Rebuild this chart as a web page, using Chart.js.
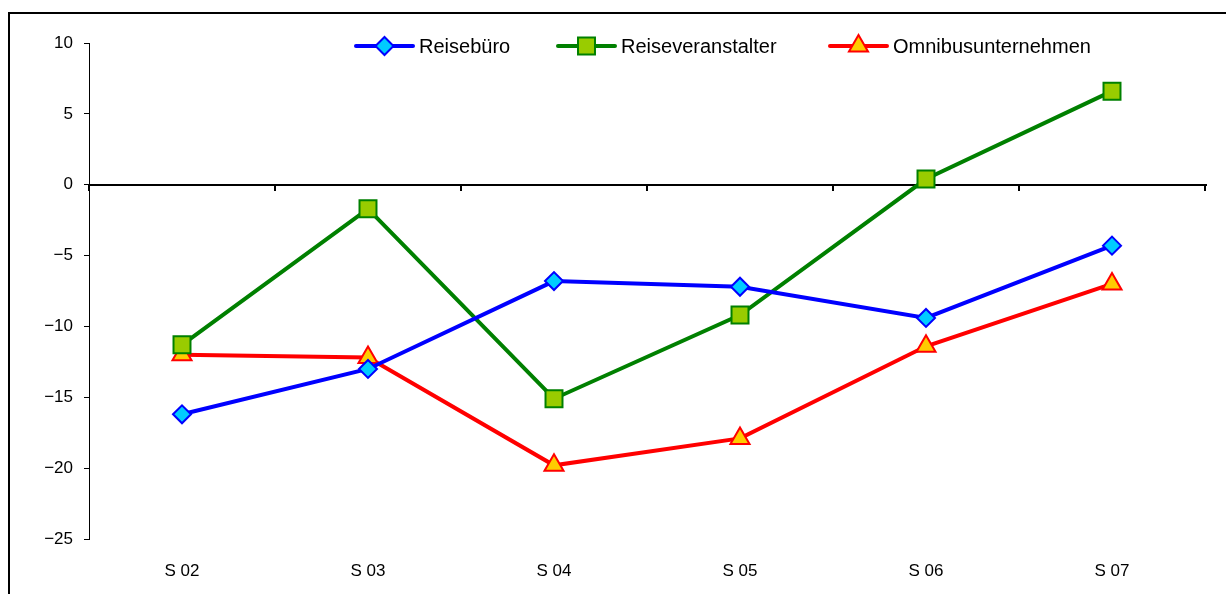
<!DOCTYPE html>
<html>
<head>
<meta charset="utf-8">
<title>Reisebranche – Saldo S 02 bis S 07</title>
<script src="https://cdn.jsdelivr.net/npm/chart.js"></script>
<style>
  html, body { margin: 0; padding: 0; background: #fff; }
  #wrap { width: 1226px; height: 594px; position: relative; }
</style>
</head>
<body>
<div id="wrap"><canvas id="c" width="1226" height="594"></canvas></div>
<script>
// Saison categories and balance values per branch
const categories = ['S 02', 'S 03', 'S 04', 'S 05', 'S 06', 'S 07'];
const reisebuero = [-16.2, -13.0, -6.8, -7.2, -9.4, -4.3];
const reiseveranstalter = [-11.3, -1.7, -15.1, -9.2, 0.4, 6.6];
const omnibusunternehmen = [-12.0, -12.2, -19.8, -17.9, -11.4, -7.0];
const yTicks = [10, 5, 0, -5, -10, -15, -20, -25];

const FONT = "'Liberation Sans', Arial, sans-serif";

function drawMarker(ctx, style, x, y, r, fill, stroke, bw) {
  ctx.save();
  ctx.beginPath();
  if (style === 'rectRot') {
    ctx.moveTo(x - r, y); ctx.lineTo(x, y - r); ctx.lineTo(x + r, y); ctx.lineTo(x, y + r);
  } else if (style === 'rect') {
    const s = r * Math.SQRT1_2;
    ctx.rect(x - s, y - s, 2 * s, 2 * s);
  } else if (style === 'triangle') {
    ctx.moveTo(x, y - r);
    ctx.lineTo(x + r * Math.sin(2 * Math.PI / 3), y - r * Math.cos(2 * Math.PI / 3));
    ctx.lineTo(x + r * Math.sin(4 * Math.PI / 3), y - r * Math.cos(4 * Math.PI / 3));
  }
  ctx.closePath();
  ctx.fillStyle = fill; ctx.fill();
  ctx.lineWidth = bw; ctx.strokeStyle = stroke; ctx.stroke();
  ctx.restore();
}

// Frame, zero axis with category separators, and the in-plot legend
const decorations = {
  id: 'decorations',
  beforeDraw(chart) {
    const ctx = chart.ctx;
    ctx.save();
    ctx.strokeStyle = '#000';
    ctx.lineWidth = 2;
    ctx.beginPath();
    ctx.moveTo(9, 594); ctx.lineTo(9, 13); ctx.lineTo(1226, 13);
    ctx.stroke();
    ctx.restore();
  },
  beforeDatasetsDraw(chart) {
    const ctx = chart.ctx, xs = chart.scales.x, ys = chart.scales.y;
    const y0 = Math.round(ys.getPixelForValue(0));
    const n = categories.length;
    const half = (xs.getPixelForValue(1) - xs.getPixelForValue(0)) / 2;
    ctx.save();
    ctx.strokeStyle = '#000';
    ctx.lineWidth = 2;
    ctx.beginPath();
    ctx.moveTo(chart.chartArea.left, y0);
    ctx.lineTo(chart.chartArea.right + 2, y0);
    ctx.stroke();
    ctx.beginPath();
    for (let i = 0; i <= n; i++) {
      const bx = Math.round(xs.getPixelForValue(0) - half + i * 2 * half);
      ctx.moveTo(bx, y0);
      ctx.lineTo(bx, y0 + 6);
    }
    ctx.stroke();
    ctx.restore();
  },
  afterDraw(chart) {
    const ctx = chart.ctx;
    const starts = [356, 558, 830];
    const ly = 46;
    chart.data.datasets.forEach((ds, i) => {
      const x0 = starts[i];
      ctx.save();
      ctx.strokeStyle = ds.borderColor;
      ctx.lineWidth = 4;
      ctx.lineCap = 'round';
      ctx.beginPath();
      ctx.moveTo(x0, ly); ctx.lineTo(x0 + 57, ly);
      ctx.stroke();
      ctx.restore();
      drawMarker(ctx, ds.pointStyle, x0 + 28.5, ly, ds.pointRadius, ds.pointBackgroundColor, ds.pointBorderColor, ds.pointBorderWidth);
      ctx.save();
      ctx.fillStyle = '#000';
      ctx.font = '20px ' + FONT;
      ctx.textBaseline = 'middle';
      ctx.fillText(ds.label, x0 + 63, ly + 1);
      ctx.restore();
    });
  }
};

new Chart(document.getElementById('c'), {
  type: 'line',
  data: {
    labels: categories,
    datasets: [
      {
        label: 'Reisebüro', data: reisebuero,
        borderColor: '#0000FF', borderWidth: 4,
        pointStyle: 'rectRot', pointRadius: 9,
        pointBackgroundColor: '#00CCFF', pointBorderColor: '#0000FF', pointBorderWidth: 2
      },
      {
        label: 'Reiseveranstalter', data: reiseveranstalter,
        borderColor: '#008000', borderWidth: 4,
        pointStyle: 'rect', pointRadius: 12,
        pointBackgroundColor: '#99CC00', pointBorderColor: '#008000', pointBorderWidth: 2
      },
      {
        label: 'Omnibusunternehmen', data: omnibusunternehmen,
        borderColor: '#FF0000', borderWidth: 4,
        pointStyle: 'triangle', pointRadius: 11,
        pointBackgroundColor: '#FFCC00', pointBorderColor: '#FF0000', pointBorderWidth: 2
      }
    ]
  },
  options: {
    responsive: false,
    animation: false,
    layout: { padding: { left: 0, top: 43, right: 21, bottom: 0 } },
    plugins: { legend: { display: false }, tooltip: { enabled: false } },
    elements: { line: { tension: 0 } },
    scales: {
      x: {
        type: 'category',
        offset: true,
        grid: { display: false, drawTicks: false },
        border: { display: false },
        ticks: { color: '#000', font: { family: FONT, size: 17 }, padding: 22, maxRotation: 0 },
        afterFit(scale) { scale.height = 55; }
      },
      y: {
        min: -25, max: 10,
        afterBuildTicks(scale) { scale.ticks = yTicks.map(v => ({ value: v })); },
        grid: { drawOnChartArea: false, drawTicks: true, tickLength: 5, color: '#000', lineWidth: 1 },
        border: { display: true, color: '#000', width: 1 },
        ticks: {
          color: '#000', font: { family: FONT, size: 17 }, padding: 11,
          callback: v => (v < 0 ? '\u2212' + Math.abs(v) : String(v))
        },
        afterFit(scale) { scale.width = 89; }
      }
    }
  },
  plugins: [decorations]
});
</script>
</body>
</html>
